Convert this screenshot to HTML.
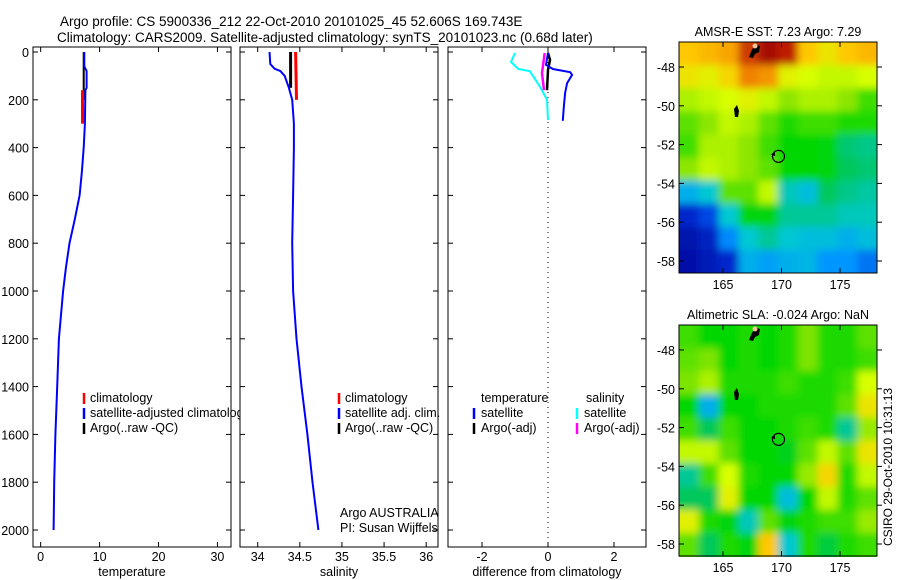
<!DOCTYPE html>
<html><head><meta charset="utf-8"><style>
html,body{margin:0;padding:0;background:#fff;}
svg{display:block;font-family:"Liberation Sans",sans-serif;}
</style></head><body>
<svg id="fig" width="900" height="580" viewBox="0 0 900 580">
<defs>
<filter id="blur" x="-5%" y="-5%" width="110%" height="110%"><feGaussianBlur stdDeviation="4"/></filter>
<clipPath id="clipTop"><rect x="679" y="42" width="198" height="231"/></clipPath>
<clipPath id="clipBot"><rect x="679" y="325" width="198" height="232"/></clipPath>
</defs>
<text x="60" y="26" font-size="13.5">Argo profile: CS 5900336_212 22-Oct-2010 20101025_45 52.606S 169.743E</text>
<text x="57" y="42" font-size="13.5">Climatology: CARS2009. Satellite-adjusted climatology: synTS_20101023.nc (0.68d later)</text>
<g id="g1"></g>
<g id="g2"></g>
<g id="g3"></g>
<g id="m1"></g>
<g id="m2"></g>
<text transform="translate(892,467) rotate(-90)" font-size="12" text-anchor="middle">CSIRO 29-Oct-2010 10:31:13</text>
</svg>
<script>
// ---- data ----
const depthTicks=[0,200,400,600,800,1000,1200,1400,1600,1800,2000];
const tempTicks=[0,10,20,30];
const salTicks=[34,34.5,35,35.5,36];
const salTickLabels=["34","34.5","35","35.5","36"];
const diffTicks=[-2,0,2];
const tempSatDepth=[0,60,80,150,160,300,400,500,600,700,800,900,1000,1200,1400,1600,1800,2000];
const tempSatVal=[7.4,7.4,7.8,7.8,7.6,7.5,7.3,7.0,6.6,5.8,4.9,4.3,3.8,3.1,2.8,2.5,2.3,2.2];
const tempClimDepth=[160,300];
const tempClimVal=[7.1,7.1];
const tempArgoDepth=[0,200];
const tempArgoVal=[7.3,7.3];
const salSatDepth=[0,50,70,80,100,130,150,200,300,400,600,800,1000,1200,1400,1600,1800,2000];
const salSatVal=[34.14,34.15,34.2,34.27,34.32,34.35,34.37,34.41,34.43,34.43,34.42,34.41,34.42,34.46,34.52,34.59,34.65,34.72];
const salClimDepth=[0,200];
const salClimVal=[34.45,34.46];
const salArgoDepth=[0,150];
const salArgoVal=[34.39,34.39];
const dTsatDepth=[4,54,71,84,96,130,172,230,288];
const dTsatVal=[0.0,-0.06,0.15,0.67,0.73,0.58,0.52,0.48,0.45];
const dTargDepth=[4,33,75,160];
const dTargVal=[0.0,0.06,0.0,-0.03];
const dSsatDepth=[4,42,71,80,146,200,285];
const dSsatVal=[-1.0,-1.12,-0.9,-0.55,-0.24,-0.03,0.0];
const dSargDepth=[4,88,160];
const dSargVal=[-0.1,-0.18,-0.12];
const lonTicks=[165,170,175];
const latTicks=[-48,-50,-52,-54,-56,-58];
const sstGrid=[
[.80,.82,.84,.93,.98,.95,.80,.76,.80,.82],
[.76,.74,.78,.88,.86,.74,.72,.70,.70,.72],
[.68,.70,.72,.74,.70,.65,.68,.68,.65,.60],
[.62,.65,.70,.68,.62,.58,.60,.60,.58,.58],
[.60,.68,.68,.65,.60,.56,.56,.55,.48,.46],
[.65,.70,.68,.65,.62,.56,.56,.55,.50,.48],
[.35,.40,.62,.62,.70,.42,.38,.50,.46,.44],
[.12,.18,.40,.55,.55,.45,.45,.45,.42,.42],
[.06,.10,.28,.40,.45,.40,.38,.38,.35,.38],
[.05,.08,.12,.35,.32,.35,.36,.30,.30,.25]];
const slaGrid=[
[.60,.56,.56,.58,.56,.58,.64,.58,.58,.62],
[.62,.64,.56,.58,.56,.58,.64,.58,.58,.60],
[.64,.68,.58,.58,.58,.60,.58,.58,.60,.72],
[.56,.35,.56,.56,.58,.58,.58,.58,.62,.76],
[.60,.50,.60,.56,.56,.58,.60,.58,.45,.66],
[.70,.70,.62,.56,.56,.54,.62,.70,.62,.76],
[.45,.60,.72,.58,.56,.56,.66,.78,.58,.70],
[.50,.50,.74,.56,.56,.38,.56,.70,.58,.62],
[.74,.58,.55,.42,.62,.55,.58,.60,.60,.66],
[.62,.50,.58,.55,.80,.40,.58,.52,.58,.60]];
// ---- helpers ----
const NS="http://www.w3.org/2000/svg";
function mk(parent,tag,attrs){const e=document.createElementNS(NS,tag);for(const k in attrs)e.setAttribute(k,attrs[k]);parent.appendChild(e);return e;}
const yD=d=>52+0.239*d;
function panel(g,x0,x1,xmin,xmax,ticks,labels,xlabel,leftLabels){
  const sx=v=>x0+(v-xmin)/(xmax-xmin)*(x1-x0);
  const r=mk(g,'rect',{x:x0,y:47,width:x1-x0,height:500,fill:'#fff',stroke:'#000','stroke-width':1});
  
  
  depthTicks.forEach(d=>{
    mk(g,'line',{x1:x0,x2:x0+5,y1:yD(d),y2:yD(d),stroke:'#000'});
    mk(g,'line',{x1:x1,x2:x1-5,y1:yD(d),y2:yD(d),stroke:'#000'});
    if(leftLabels){const t=mk(g,'text',{x:x0-4,y:yD(d)+5,'font-size':12.5,'text-anchor':'end'});t.textContent=d;
      
      }
  });
  ticks.forEach((v,i)=>{
    const x=sx(v);
    mk(g,'line',{x1:x,x2:x,y1:47,y2:52,stroke:'#000'});
    mk(g,'line',{x1:x,x2:x,y1:547,y2:542,stroke:'#000'});
    const t=mk(g,'text',{x:x,y:561,'font-size':12.5,'text-anchor':'middle'});t.textContent=labels[i];
    
    
  });
  const xl=mk(g,'text',{x:(x0+x1)/2,y:576,'font-size':12.5,'text-anchor':'middle'});xl.textContent=xlabel;
  
  
  return sx;
}
function line(g,sx,ds,vs,col,w,name){
  let p='';ds.forEach((d,i)=>{p+=(i?'L':'M')+sx(vs[i]).toFixed(1)+' '+yD(d).toFixed(1)+' ';});
  const e=mk(g,'path',{d:p,fill:'none',stroke:col,'stroke-width':w});
  
  
}
function txt(g,x,y,s,name){const t=mk(g,'text',{x:x,y:y,'font-size':12.5});t.textContent=s;
  
  return t;}
function mark(g,x,y,col){mk(g,'line',{x1:x,x2:x,y1:y-11,y2:y,stroke:col,'stroke-width':2.5});}
// panel 1
const g1=document.getElementById('g1');
const s1=panel(g1,33,231,-1.3,32.3,tempTicks,tempTicks.map(String),'temperature',true);
line(g1,s1,tempArgoDepth,tempArgoVal,'#000',2,'argo-temperature-line');
line(g1,s1,tempClimDepth,tempClimVal,'#f00',3,'climatology-temperature-line');
line(g1,s1,tempSatDepth,tempSatVal,'#00f',2,'satellite-temperature-line');
mark(g1,84,404,'#f00');txt(g1,90,402,'climatology','legend-climatology');
mark(g1,84,419,'#00f');txt(g1,90,417,'satellite-adjusted climatology','legend-satellite');
mark(g1,84,434,'#000');txt(g1,90,432,'Argo(..raw -QC)','legend-argo');
// panel 2
const g2=document.getElementById('g2');
const s2=panel(g2,240,438,33.79,36.14,salTicks,salTickLabels,'salinity',false);
line(g2,s2,salArgoDepth,salArgoVal,'#000',3,'argo-salinity-line');
line(g2,s2,salClimDepth,salClimVal,'#f00',3,'climatology-salinity-line');
line(g2,s2,salSatDepth,salSatVal,'#00f',2,'satellite-salinity-line');
mark(g2,339,404,'#f00');txt(g2,345,402,'climatology','legend-climatology');
mark(g2,339,419,'#00f');txt(g2,345,417,'satellite adj. clim.','legend-satellite');
mark(g2,339,434,'#000');txt(g2,345,432,'Argo(..raw -QC)','legend-argo');
txt(g2,340,517,'Argo AUSTRALIA','argo-australia-label');
txt(g2,340,532,'PI: Susan Wijffels','pi-label');
// panel 3
const g3=document.getElementById('g3');
const s3=panel(g3,448,646,-3.03,2.97,diffTicks,diffTicks.map(String),'difference from climatology',false);
mk(g3,'line',{x1:s3(0),x2:s3(0),y1:47,y2:547,stroke:'#000','stroke-dasharray':'1 4'});
line(g3,s3,dSsatDepth,dSsatVal,'#0ff',2,'satellite-salinity-diff');
line(g3,s3,dSargDepth,dSargVal,'#f0f',2.5,'argo-salinity-diff');
line(g3,s3,dTargDepth,dTargVal,'#000',2.5,'argo-temperature-diff');
line(g3,s3,dTsatDepth,dTsatVal,'#00f',2,'satellite-temperature-diff');
txt(g3,481,402,'temperature','legend-temperature');txt(g3,586,402,'salinity','legend-salinity');
mark(g3,474,419,'#00f');txt(g3,481,417,'satellite','legend-t-satellite');
mark(g3,474,434,'#000');txt(g3,481,432,'Argo(-adj)','legend-t-argo');
mark(g3,577,419,'#0ff');txt(g3,584,417,'satellite','legend-s-satellite');
mark(g3,577,434,'#f0f');txt(g3,584,432,'Argo(-adj)','legend-s-argo');
// maps
const stops=[[0,[0,0,140]],[.15,[0,50,220]],[.3,[0,150,255]],[.4,[0,200,210]],[.5,[0,200,90]],[.56,[0,215,0]],[.65,[140,230,0]],[.72,[215,255,0]],[.8,[255,200,0]],[.88,[240,130,0]],[.95,[190,30,0]],[1,[150,0,0]]];
function cmap(v){for(let i=1;i<stops.length;i++){if(v<=stops[i][0]){const a=stops[i-1],b=stops[i],t=(v-a[0])/(b[0]-a[0]);
  return 'rgb('+a[1].map((c,k)=>Math.round(c+(b[1][k]-c)*t)).join(',')+')';}}return 'rgb(150,0,0)';}
function map(id,top,grid,clip,title){
  const g=document.getElementById(id);
  const L=679,R=877,B=top+231;
  const sxm=lon=>723+(lon-165)*11.7;
  const sym=lat=>(top+25)+(-48-lat)*19.4;
  const tt=mk(g,'text',{x:778,y:top-6,'font-size':12.5,'text-anchor':'middle'});tt.textContent=title;
  
  
  const cg=mk(g,'g',{'clip-path':'url(#'+clip+')'});
  const bg=mk(cg,'g',{filter:'url(#blur)'});
  const nr=grid.length,nc=grid[0].length,cw=(R-L)/nc,ch=(B-top)/nr;
  grid.forEach((row,r)=>row.forEach((v,c)=>{
    const cell=mk(bg,'rect',{x:L+c*cw-(c==0?10:0),y:top+r*ch-(r==0?10:0),width:cw+(c==0||c==nc-1?10:0)+0.5,height:ch+(r==0||r==nr-1?10:0)+0.5,fill:cmap(v)});
    
    
  }));
  mk(cg,'path',{d:`M${L+72} ${top+10} l4 -8 l5 2 l-1 6 l-4 2 l-2 4 l-4 -1 z`,fill:'#000'});
  mk(cg,'circle',{cx:L+76,cy:top+4,r:2.5,fill:'#f5c5a0'});
  mk(cg,'path',{d:`M${L+55} ${top+67} l3 -4 l2 6 l-1 6 l-3 0 z`,fill:'#000'});
  const c=mk(g,'circle',{cx:sxm(169.743),cy:sym(-52.606),r:6,fill:'none',stroke:'#000','stroke-width':1.2});
  
  
  mk(g,'path',{d:`M${sxm(169.1)} ${sym(-52.5)} l4 -2 l0 4 z`,fill:'#000'});
  mk(g,'rect',{x:L,y:top,width:R-L,height:B-top,fill:'none',stroke:'#000'});
  lonTicks.forEach(v=>{const x=sxm(v);mk(g,'line',{x1:x,x2:x,y1:top,y2:top+5,stroke:'#000'});mk(g,'line',{x1:x,x2:x,y1:B,y2:B-5,stroke:'#000'});
    const t=mk(g,'text',{x:x,y:B+16,'font-size':12.5,'text-anchor':'middle'});t.textContent=v;
    
    });
  latTicks.forEach(v=>{const y=sym(v);mk(g,'line',{x1:L,x2:L+5,y1:y,y2:y,stroke:'#000'});mk(g,'line',{x1:R,x2:R+5,y1:y,y2:y,stroke:'#000'});
    const t=mk(g,'text',{x:L-4,y:y+5,'font-size':12.5,'text-anchor':'end'});t.textContent=v;
    
    });
}
map('m1',42,sstGrid,'clipTop','AMSR-E SST: 7.23 Argo: 7.29');
map('m2',325,slaGrid,'clipBot','Altimetric SLA: -0.024 Argo: NaN');
</script>
</body></html>
